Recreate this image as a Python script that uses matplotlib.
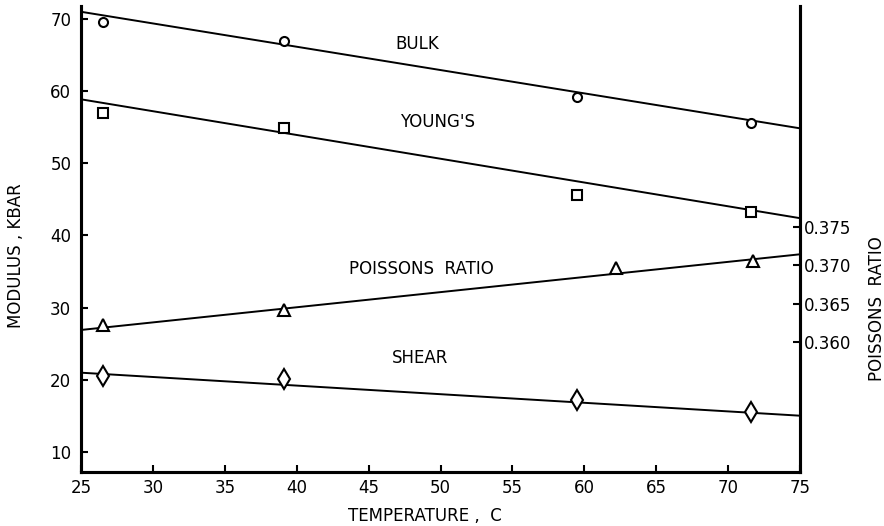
import matplotlib
matplotlib.use("Agg")
import matplotlib.pyplot as plt
import numpy as np

# Data
temp_bulk = [26.5, 39.1, 59.5, 71.6]
bulk = [69.6, 67.0, 59.2, 55.6]
temp_young = [26.5, 39.1, 59.5, 71.6]
young = [57.0, 54.9, 45.6, 43.3]
temp_poisson = [26.5, 39.1, 62.2, 71.7]
poisson = [0.3622, 0.3642, 0.3697, 0.3706]
temp_shear = [26.5, 39.1, 59.5, 71.6]
shear = [20.5, 20.1, 17.2, 15.5]

# Fitted straight lines, values at the ends of the temperature range
fit_temps = [25, 75]
bulk_fit = [71.0, 54.85]
young_fit = [58.87, 42.4]
poisson_fit = [0.36157, 0.37144]
shear_fit = [20.99, 15.03]

x_ticks = [25, 30, 35, 40, 45, 50, 55, 60, 65, 70, 75]
left_ticks = [10, 20, 30, 40, 50, 60, 70]
right_ticks = [0.360, 0.365, 0.370, 0.375]
right_tick_labels = ["0.360", "0.365", "0.370", "0.375"]

plt.rcParams['font.family'] = ['DejaVu Sans']
fig = plt.figure(figsize=(8.84, 5.26), dpi=100)
ax = fig.add_axes([81/884, 1-471.7/526, (800-81)/884, (471.7-6)/526])
ax2 = ax.twinx()

lw = 1.4
mew = 1.5
ax.plot(fit_temps, bulk_fit, color='black', lw=lw, zorder=2)
ax.plot(fit_temps, young_fit, color='black', lw=lw, zorder=2)
ax.plot(fit_temps, shear_fit, color='black', lw=lw, zorder=2)
ax2.plot(fit_temps, poisson_fit, color='black', lw=lw, zorder=2)

ax.plot(temp_bulk, bulk, linestyle='none', marker='o', ms=6.5, mfc='white', mec='black', mew=mew, zorder=3)
ax.plot(temp_young, young, linestyle='none', marker='s', ms=7.5, mfc='white', mec='black', mew=mew, zorder=3)
ax.plot(temp_shear, shear, linestyle='none', marker='d', ms=10.5, mfc='white', mec='black', mew=mew, zorder=3)
ax2.plot(temp_poisson, poisson, linestyle='none', marker='^', ms=9, mfc='white', mec='black', mew=mew, zorder=3)

ax.set_xlim(25, 75)
ax.set_ylim(7.27, 71.8)
ax2.set_ylim(0.34308, 0.40383)

fs = 12
ax.set_xticks(x_ticks)
ax.set_xticklabels([str(t) for t in x_ticks], fontsize=fs)
ax.set_yticks(left_ticks)
ax.set_yticklabels([str(t) for t in left_ticks], fontsize=fs)
ax2.set_yticks(right_ticks)
ax2.set_yticklabels(right_tick_labels, fontsize=fs)

ax.tick_params(axis='x', direction='in', length=5, width=1.5, pad=5)
ax.tick_params(axis='y', direction='in', length=5, width=1.5, pad=7)
ax2.tick_params(axis='y', direction='in', length=5, width=1.5, pad=3)

for a in (ax, ax2):
    a.spines['top'].set_visible(False)
    for s in ('left', 'right', 'bottom'):
        a.spines[s].set_linewidth(2.2)

ax.set_xlabel("TEMPERATURE ,  C", fontsize=fs)
ax.xaxis.set_label_coords(0.478, -0.076)
ax.set_ylabel("MODULUS , KBAR", fontsize=fs)
ax.yaxis.set_label_coords(-0.078, 0.465)
ax2.set_ylabel("POISSONS  RATIO", fontsize=fs)
ax2.yaxis.set_label_coords(1.094, 0.35)

ax.text(48.4, 66.6, "BULK", fontsize=fs, ha='center', va='center')
ax.text(49.8, 55.7, "YOUNG'S", fontsize=fs, ha='center', va='center')
ax.text(48.7, 35.4, "POISSONS  RATIO", fontsize=fs, ha='center', va='center')
ax.text(48.6, 23.0, "SHEAR", fontsize=fs, ha='center', va='center')

fig.savefig("out.png", dpi=100)
